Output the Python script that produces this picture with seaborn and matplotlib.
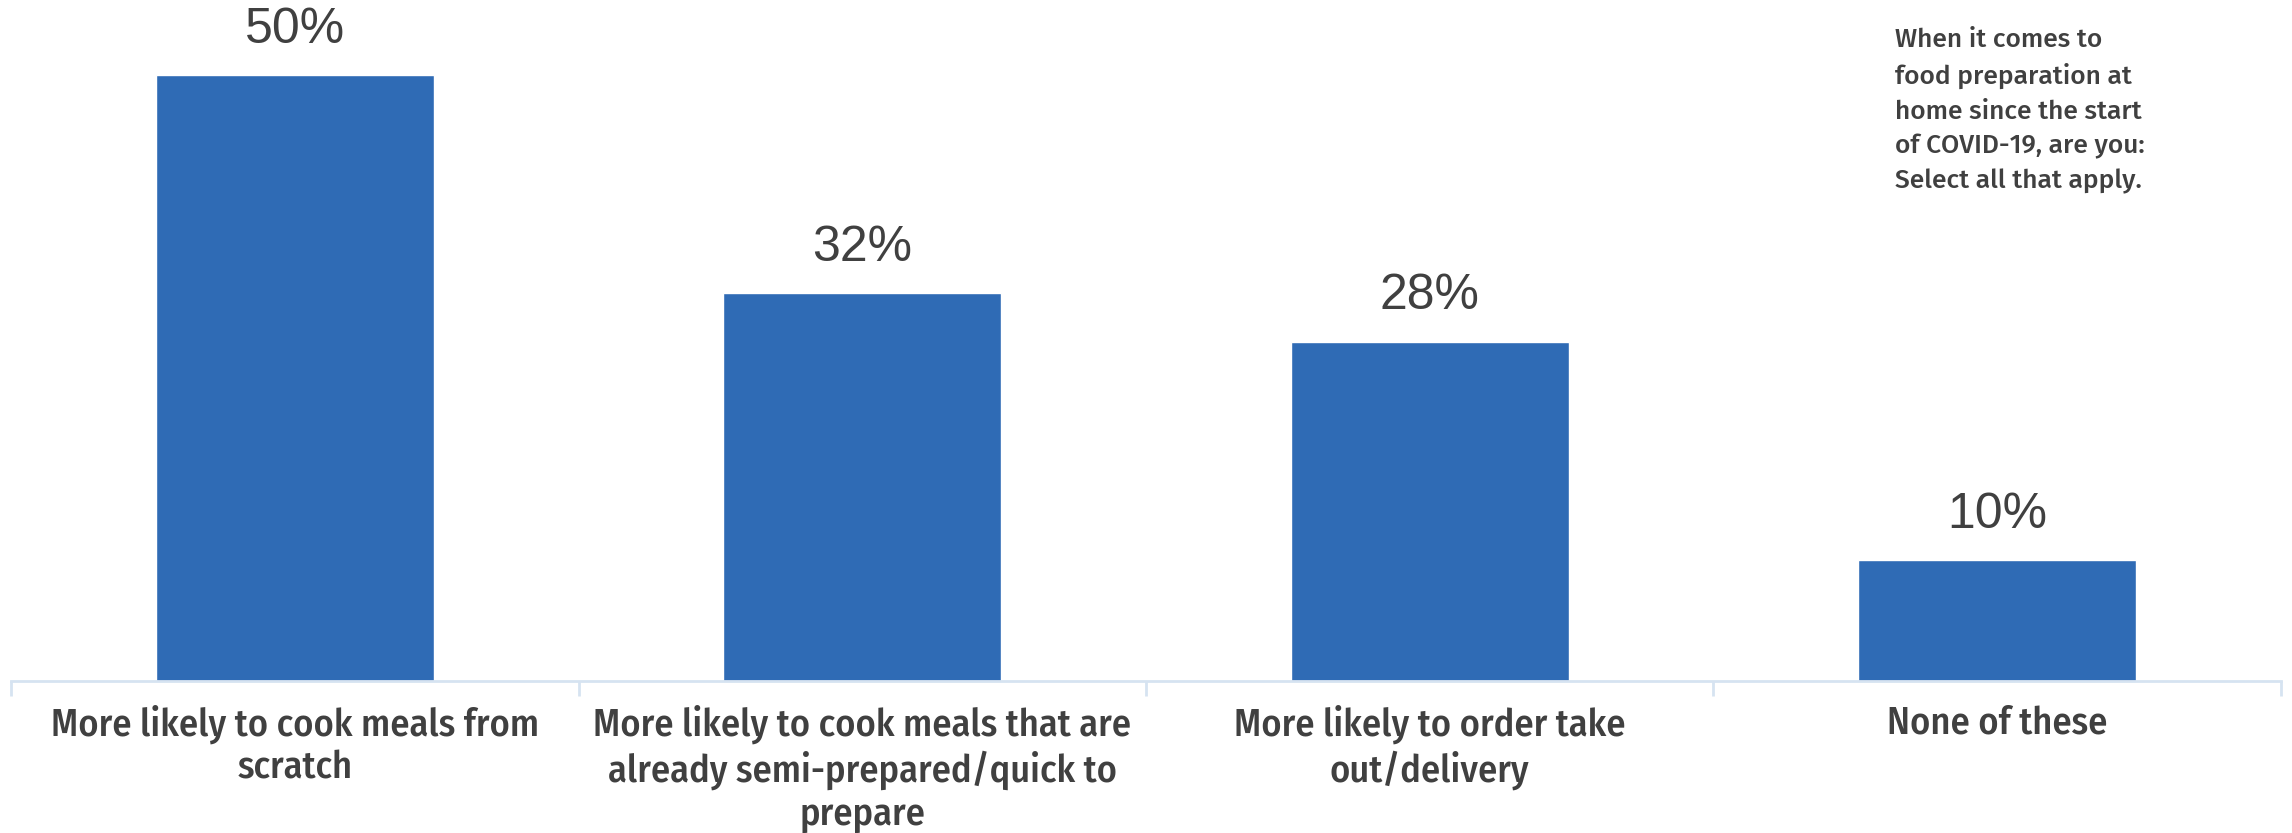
import matplotlib
matplotlib.use("Agg")
import matplotlib.pyplot as plt
import seaborn as sns
import pandas as pd
from matplotlib.ticker import FixedLocator

categories = [
    "More likely to cook meals from\nscratch",
    "More likely to cook meals that are\nalready semi-prepared/quick to\nprepare",
    "More likely to order take\nout/delivery",
    "None of these",
]
values = [50, 32, 28, 10]
value_labels = ["50%", "32%", "28%", "10%"]
note = ("When it comes to\nfood preparation at\nhome since the start\n"
        "of COVID-19, are you:\nSelect all that apply.")

sns.set_style("white")
plt.rcParams["font.family"] = ["Liberation Sans", "DejaVu Sans"]

BAR = "#2F6BB5"
TXT = "#404040"
AX = "#D6E3F1"
NARROW = ["Fira Sans Condensed", "Archivo Narrow", "DejaVu Sans"]
NOTEF = ["Fira Sans", "DejaVu Sans"]

fig = plt.figure(figsize=(22.92, 8.33), dpi=100)
ax = fig.add_axes([0.005, 0.1825, 0.99, 0.8003])

df = pd.DataFrame({"cat": categories, "val": values})
sns.barplot(data=df, x="cat", y="val", color=BAR, width=0.49, saturation=1, ax=ax)

ax.set_xlim(-0.5, 3.5)
ax.set_ylim(0, 55)
ax.set_xlabel("")
ax.set_ylabel("")
ax.set_yticks([])

for s in ["top", "right", "left"]:
    ax.spines[s].set_visible(False)
ax.spines["bottom"].set_color(AX)
ax.spines["bottom"].set_linewidth(2)

ax.tick_params(axis="x", which="major", bottom=False, length=0, pad=17,
               labelsize=27.5, labelcolor=TXT)
ax.xaxis.set_minor_locator(FixedLocator([-0.5, 0.5, 1.5, 2.5, 3.5]))
ax.tick_params(axis="x", which="minor", bottom=True, length=11, width=2, color=AX)
for lbl in ax.get_xticklabels():
    lbl.set_fontfamily(NARROW)
    lbl.set_fontweight("medium")
    lbl.set_linespacing(1.2)

ax.bar_label(ax.containers[0], labels=value_labels, padding=16,
             fontsize=36, color=TXT, fontfamily=["Liberation Sans", "DejaVu Sans"])

fig.text(0.827, 0.967, note, ha="left", va="top", fontsize=19, color=TXT,
         linespacing=1.5, family=NOTEF, fontweight="medium")

fig.savefig("out.png", dpi=100, facecolor="white")
